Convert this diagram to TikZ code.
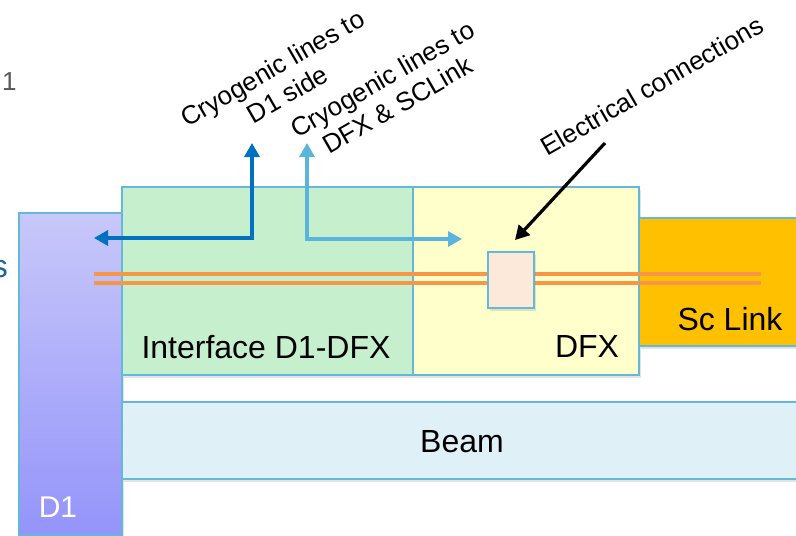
\documentclass[tikz,border=0pt]{standalone}
\usepackage{fontspec}
\setmainfont{Liberation Sans}
\usetikzlibrary{arrows.meta,shadows}
\definecolor{bordercol}{RGB}{100,185,218}
\definecolor{greenfill}{RGB}{198,239,206}
\definecolor{yellowfill}{RGB}{255,255,204}
\definecolor{scfill}{RGB}{255,192,0}
\definecolor{beamfill}{RGB}{223,240,247}
\definecolor{smallfill}{RGB}{252,233,217}
\definecolor{orangeline}{RGB}{247,150,70}
\definecolor{darkblue}{RGB}{0,112,192}
\definecolor{lightblue}{RGB}{90,180,220}
\definecolor{d1top}{RGB}{200,200,250}
\definecolor{d1bot}{RGB}{148,148,250}
\definecolor{graytext}{RGB}{89,89,89}
\definecolor{tealtext}{RGB}{23,104,155}
\tikzset{
  boxshape/.style={draw=bordercol, line width=1.6pt, inner sep=0pt, outer sep=0pt, anchor=north west,
    drop shadow={opacity=0.22, shadow xshift=2pt, shadow yshift=-3pt}},
  bigtext/.style={font=\fontsize{32}{37}\selectfont, inner sep=0pt, anchor=base},
  rotlabel/.style={font=\fontsize{26}{30}\selectfont, inner sep=0pt, rotate=30, align=center},
  cable/.style={draw=orangeline, line width=3.6pt},
  arr/.style={line width=3.2pt, {Triangle[length=14pt,width=15pt]}-{Triangle[length=14pt,width=15pt]}},
  arrone/.style={line width=3.2pt, -{Triangle[length=14pt,width=15pt]}}
}
\begin{document}
\begin{tikzpicture}[x=1pt,y=-1pt]
\clip (0,0) rectangle (796,536);
\fill[white] (0,0) rectangle (796,536);

% left cut texts
\node[font=\fontsize{26}{30}\selectfont, text=graytext, inner sep=0pt, anchor=base west] (one) at (2,90) {1};
\node[font=\fontsize{32}{36}\selectfont, text=tealtext, inner sep=0pt, anchor=base east] (ess) at (8,277) {s};

% boxes
\node[boxshape, top color=d1top, bottom color=d1bot, minimum width=103pt, minimum height=322pt] (d1) at (19,213) {};
\node[boxshape, fill=greenfill, minimum width=291pt, minimum height=188pt] (iface) at (122,187) {};
\node[boxshape, fill=yellowfill, minimum width=226pt, minimum height=188pt] (dfx) at (413,187) {};
\node[boxshape, fill=scfill, minimum width=170pt, minimum height=128pt] (sc) at (639,218) {};
\node[boxshape, fill=beamfill, minimum width=700pt, minimum height=77pt] (beam) at (122,402) {};

% box labels
\node[bigtext] (ifacetxt) at (266,358) {Interface D1-DFX};
\node[bigtext] (dfxtxt) at (587,357) {DFX};
\node[bigtext] (sctxt) at (730,330) {Sc Link};
\node[bigtext] (beamtxt) at (462,452) {Beam};
\node[bigtext, text=white, font=\fontsize{30}{35}\selectfont] (d1txt) at (58,517) {D1};

% cables
\coordinate (cabAl) at (94,274);
\coordinate (cabAr) at (761,274);
\coordinate (cabBl) at (94,283);
\coordinate (cabBr) at (761,283);
\draw[cable] (cabAl) -- (cabAr);
\draw[cable] (cabBl) -- (cabBr);

% electrical connection box
\node[boxshape, fill=smallfill, minimum width=46pt, minimum height=56pt, drop shadow={opacity=0}] (elec) at (488,252) {};

% rotated labels
\node[rotlabel] (lab1) at (280,81) {Cryogenic lines to\\D1 side};
\node[rotlabel] (lab2) at (390,92) {Cryogenic lines to\\DFX \& SCLink};
\node[rotlabel] (lab3) at (652,86) {Electrical connections};

% arrows
\coordinate (a1l) at (94,238);
\coordinate (a1c) at (252,238);
\coordinate (a1t) at (252,143);
\draw[arr, draw=darkblue] (a1l) -- (a1c) -- (a1t);

\coordinate (a2t) at (307,143);
\coordinate (a2c) at (307,239);
\coordinate (a2r) at (462,239);
\draw[arr, draw=lightblue] (a2t) -- (a2c) -- (a2r);

\coordinate (a3s) at (605,143);
\coordinate (a3e) at (515,240);
\draw[arrone, draw=black] (a3s) -- (a3e);
\end{tikzpicture}
\end{document}
